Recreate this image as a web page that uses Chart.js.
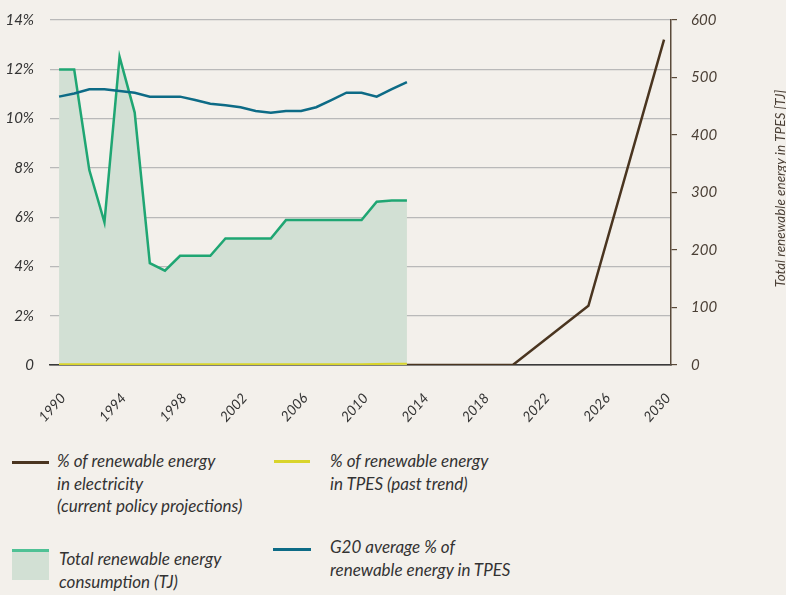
<!DOCTYPE html>
<html>
<head>
<meta charset="utf-8">
<script src="https://cdn.jsdelivr.net/npm/chart.js@4"></script>
<style>
  body { margin: 0; background: #f3f0eb; }
  #wrap { position: relative; width: 786px; height: 595px; overflow: hidden; }
  canvas { position: absolute; left: 0; top: 0; }
  .lg { position: absolute; font: italic 17px Lato, sans-serif; color: #333; line-height: 22.5px; white-space: nowrap; }
  .sw { position: absolute; }
</style>
</head>
<body>
<div id="wrap">
  <canvas id="chart" width="786" height="440"></canvas>

  <div class="sw" id="sw1" style="left:12px;top:461px;width:37px;height:3px"></div>
  <div class="lg" style="left:57px;top:450px">% of renewable energy<br>in electricity<br>(current policy projections)</div>

  <div class="sw" id="sw2" style="left:274px;top:460px;width:36px;height:3px"></div>
  <div class="lg" style="left:330px;top:450px">% of renewable energy<br>in TPES (past trend)</div>

  <div class="sw" id="sw3" style="left:12px;top:549px;width:37px;height:31px;box-sizing:border-box"></div>
  <div class="lg" style="left:59px;top:548px">Total renewable energy<br>consumption (TJ)</div>

  <div class="sw" id="sw4" style="left:273px;top:548px;width:38px;height:3px"></div>
  <div class="lg" style="left:330px;top:536px">G20 average % of<br>renewable energy in TPES</div>
</div>
<script>
// data
const pastYears = [1990, 1991, 1992, 1993, 1994, 1995, 1996, 1997, 1998, 1999, 2000, 2001,
  2002, 2003, 2004, 2005, 2006, 2007, 2008, 2009, 2010, 2011, 2012, 2013];
const totalTJ = [514, 514, 339, 248, 536, 439, 177, 164, 190, 190, 190, 220,
  220, 220, 220, 252, 252, 252, 252, 252, 252, 284, 286, 286];
const g20Share = [10.89, 11.02, 11.19, 11.19, 11.12, 11.05, 10.89, 10.89, 10.89, 10.75, 10.6, 10.54,
  10.46, 10.31, 10.24, 10.31, 10.31, 10.46, 10.75, 11.05, 11.05, 10.89, 11.19, 11.48];
const tpesShare = [0.03, 0.03, 0.03, 0.03, 0.03, 0.03, 0.03, 0.03, 0.03, 0.03, 0.03, 0.03,
  0.03, 0.03, 0.03, 0.03, 0.03, 0.03, 0.03, 0.03, 0.03, 0.04, 0.05, 0.05];
const projYears = [2013, 2020, 2025, 2030];
const elecShare = [0, 0, 2.4, 13.2];

const xTicks = [1990, 1994, 1998, 2002, 2006, 2010, 2014, 2018, 2022, 2026, 2030];
const pctTicks = [0, 2, 4, 6, 8, 10, 12, 14];
const tjTicks = [0, 100, 200, 300, 400, 500, 600];

const brown = '#4a3520';
const yellow = '#d9d42b';
const green = '#1fa673';
const greenFill = '#d2e0d4';
const blue = '#0d6b86';

document.getElementById('sw1').style.background = brown;
document.getElementById('sw2').style.background = yellow;
document.getElementById('sw3').style.background = greenFill;
document.getElementById('sw3').style.borderTop = '3px solid #4fc195';
document.getElementById('sw4').style.background = blue;

const pts = (xs, ys) => xs.map((x, i) => ({ x: x, y: ys[i] }));

Chart.defaults.font.family = 'Lato';
Chart.defaults.font.style = 'italic';
Chart.defaults.font.size = 15;
Chart.defaults.color = '#333';

const rightTitle = {
  id: 'rightTitle',
  afterDraw(chart) {
    const c = chart.ctx, a = chart.chartArea;
    c.save();
    c.translate(781, (a.top + a.bottom) / 2 - 4);
    c.rotate(-Math.PI / 2);
    c.font = 'italic 13.5px Lato';
    c.fillStyle = '#4a3f35';
    c.textAlign = 'center';
    c.textBaseline = 'middle';
    c.fillText('Total renewable energy in TPES [TJ]', 0, 0);
    c.restore();
  }
};

// y axes: no extra label padding, so the plot area starts where layout padding says
const noPad = s => { s.paddingTop = 0; s.paddingBottom = 0; };

new Chart(document.getElementById('chart'), {
  type: 'line',
  data: {
    datasets: [
      {
        label: 'G20 average % of renewable energy in TPES',
        data: pts(pastYears, g20Share),
        yAxisID: 'yPct',
        borderColor: blue,
        borderWidth: 2.5,
        pointRadius: 0,
        order: 1
      },
      {
        label: '% of renewable energy in electricity (current policy projections)',
        data: pts(projYears, elecShare),
        yAxisID: 'yPct',
        borderColor: brown,
        borderWidth: 2.5,
        pointRadius: 0,
        order: 2
      },
      {
        label: '% of renewable energy in TPES (past trend)',
        data: pts(pastYears, tpesShare),
        yAxisID: 'yPct',
        borderColor: yellow,
        borderWidth: 2,
        pointRadius: 0,
        order: 3
      },
      {
        label: 'Total renewable energy consumption (TJ)',
        data: pts(pastYears, totalTJ),
        yAxisID: 'yTJ',
        borderColor: green,
        backgroundColor: greenFill,
        fill: 'origin',
        borderWidth: 2.5,
        pointRadius: 0,
        order: 4
      }
    ]
  },
  options: {
    responsive: false,
    animation: false,
    layout: { padding: { top: 20 } },
    plugins: { legend: { display: false }, tooltip: { enabled: false } },
    scales: {
      x: {
        type: 'linear',
        min: 1989.4,
        max: 2030.46,
        afterBuildTicks: s => { s.ticks = xTicks.map(v => ({ value: v })); },
        afterFit: s => { s.height = 75; },
        grid: { display: false },
        border: { display: true, color: '#3a3a3a', width: 1.5 },
        ticks: {
          autoSkip: false,
          minRotation: 48,
          maxRotation: 48,
          padding: 17,
          labelOffset: 4,
          font: { size: 14 },
          callback: v => String(v)
        }
      },
      yPct: {
        position: 'left',
        min: 0,
        max: 14,
        afterBuildTicks: s => { s.ticks = pctTicks.map(v => ({ value: v })); },
        afterFit: s => { s.width = 50; noPad(s); },
        grid: {
          drawTicks: false,
          color: c => c.tick.value === 0 ? '#3a3a3a' : '#b9b9b9',
          lineWidth: 1.2
        },
        border: { display: false },
        ticks: {
          padding: 16,
          callback: v => v === 0 ? '0' : v + '%'
        }
      },
      yTJ: {
        position: 'right',
        min: 0,
        max: 600,
        afterBuildTicks: s => { s.ticks = tjTicks.map(v => ({ value: v })); },
        afterFit: s => { s.width = 115; noPad(s); },
        grid: { drawOnChartArea: false, drawTicks: true, tickLength: 6, color: '#5a4a3a', lineWidth: 1.2 },
        border: { display: true, color: '#5a4a3a', width: 1.5 },
        ticks: { padding: 14, color: '#4a3f35' }
      }
    }
  },
  plugins: [rightTitle]
});
</script>
</body>
</html>
